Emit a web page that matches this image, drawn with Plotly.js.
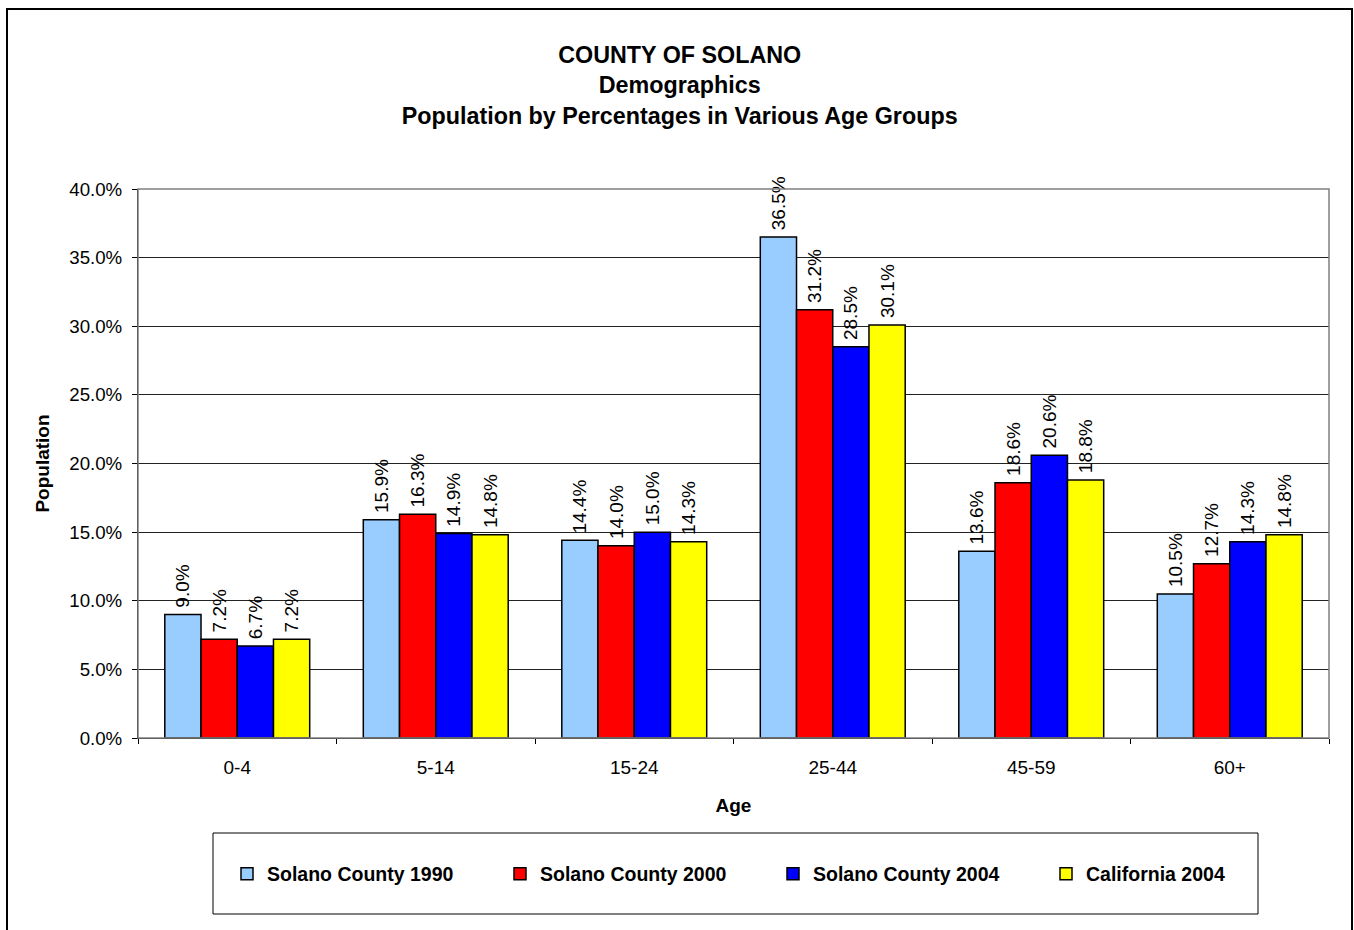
<!DOCTYPE html>
<html>
<head>
<meta charset="utf-8">
<script src="https://cdn.plot.ly/plotly-3.0.1.min.js"></script>
<style>
  html, body { margin: 0; padding: 0; background: #fff; }
  #wrap { position: relative; width: 1354px; height: 930px; overflow: hidden; }
  #chart { width: 1354px; height: 930px; }
  #frame { position: absolute; left: 6px; top: 8px; width: 1347px; height: 940px;
           border: 2.5px solid #000; pointer-events: none; box-sizing: border-box; }
</style>
</head>
<body>
<div id="wrap">
  <div id="chart"></div>
  <div id="frame"></div>
</div>
<script>
// ---- Data ----
const categories = ["0-4", "5-14", "15-24", "25-44", "45-59", "60+"];
const seriesNames = ["Solano County 1990", "Solano County 2000", "Solano County 2004", "California 2004"];
const solano1990 = [0.090, 0.159, 0.144, 0.365, 0.136, 0.105];
const solano2000 = [0.072, 0.163, 0.140, 0.312, 0.186, 0.127];
const solano2004 = [0.067, 0.149, 0.150, 0.285, 0.206, 0.143];
const california2004 = [0.072, 0.148, 0.143, 0.301, 0.188, 0.148];
const yTicks = [0, 0.05, 0.10, 0.15, 0.20, 0.25, 0.30, 0.35, 0.40];

const titleLines = ["COUNTY OF SOLANO", "Demographics", "Population by Percentages in Various Age Groups"];
const xTitle = "Age";
const yTitle = "Population";

// ---- Styles ----
const colors = ["#99CCFF", "#FF0000", "#0000FF", "#FFFF00"];
const FONT = "Arial, 'Liberation Sans', sans-serif";
const seriesValues = [solano1990, solano2000, solano2004, california2004];

const traces = seriesValues.map((vals, i) => ({
  type: "bar",
  name: seriesNames[i],
  x: categories,
  y: vals,
  marker: { color: colors[i], line: { color: "#000", width: 1.5 } },
  texttemplate: "\u2009%{y:.1%}",
  textposition: "outside",
  textangle: -90,
  constraintext: "none",
  cliponaxis: false,
  textfont: { family: FONT, size: 19, color: "#000" },
  hoverinfo: "none"
}));

const L = 138, R = 1329, T = 189, B = 738;
const W = R - L, H = B - T;
const px2x = p => (p - L) / W;
const py2y = p => (B - p) / H;

const layout = {
  width: 1354, height: 930,
  margin: { l: L, r: 1354 - R, t: T, b: 930 - B, pad: 0 },
  paper_bgcolor: "#fff",
  plot_bgcolor: "#fff",
  font: { family: FONT, size: 19, color: "#000" },
  title: {
    text: titleLines.join("<br>"),
    font: { family: FONT, size: 23.3, weight: "bold", color: "#000" },
    xref: "container", yref: "container",
    x: 0.502, xanchor: "center",
    y: 1 - 63 / 930, yanchor: "middle"
  },
  barmode: "group",
  bargap: 0.27,
  bargroupgap: 0,
  showlegend: true,
  legend: {
    orientation: "h",
    x: px2x(227), xanchor: "left",
    y: py2y(874), yanchor: "middle",
    bgcolor: "rgba(0,0,0,0)",
    borderwidth: 0,
    entrywidth: 228,
    entrywidthmode: "pixels",
    font: { family: FONT, size: 19.5, weight: "bold", color: "#000" },
    itemclick: false, itemdoubleclick: false
  },
  xaxis: {
    type: "category",
    showline: true, linecolor: "#000", linewidth: 1,
    ticks: "outside", tickson: "boundaries", ticklen: 5, tickcolor: "#000", tickwidth: 1,
    ticklabelstandoff: 12,
    tickfont: { family: FONT, size: 19, color: "#000" },
    showgrid: false,
    title: { text: xTitle, font: { family: FONT, size: 19, weight: "bold", color: "#000" }, standoff: 21 },
    fixedrange: true
  },
  yaxis: {
    range: [0, 0.40],
    tickvals: yTicks,
    tickformat: ".1%",
    showline: true, linecolor: "#000", linewidth: 1,
    ticks: "outside", ticklen: 5, tickcolor: "#000", tickwidth: 1,
    ticklabelstandoff: 6,
    tickfont: { family: FONT, size: 18.7, color: "#000" },
    showgrid: true, gridcolor: "#222", gridwidth: 1,
    zeroline: false,
    title: { text: yTitle, font: { family: FONT, size: 19, weight: "bold", color: "#000" }, standoff: 14 },
    fixedrange: true
  },
  shapes: [
    { type: "rect", xref: "paper", yref: "paper", x0: 0, x1: 1, y0: 0, y1: 1,
      line: { color: "#808080", width: 1.5 }, fillcolor: "rgba(0,0,0,0)", layer: "above" },
    { type: "rect", xref: "paper", yref: "paper",
      x0: px2x(213), x1: px2x(1258), y0: py2y(914), y1: py2y(833),
      line: { color: "#000", width: 1 }, fillcolor: "rgba(0,0,0,0)", layer: "above" }
  ]
};

Plotly.newPlot("chart", traces, layout, { displayModeBar: false, staticPlot: true });
</script>
</body>
</html>
